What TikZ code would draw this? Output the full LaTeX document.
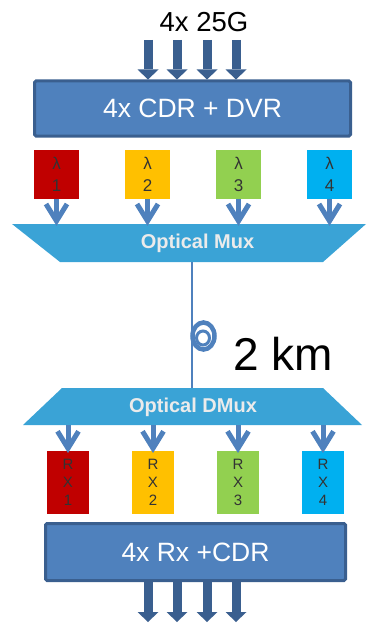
\documentclass[tikz,border=0pt]{standalone}
\usepackage{fontspec}
\setmainfont{Liberation Sans}
\usetikzlibrary{arrows.meta,calc}
\definecolor{blk}{HTML}{4F81BD}
\definecolor{blkdark}{HTML}{3A5F8F}
\definecolor{muxc}{HTML}{3AA3D6}
\definecolor{lred}{HTML}{C00000}
\definecolor{lyel}{HTML}{FFC000}
\definecolor{lgrn}{HTML}{92D050}
\definecolor{lblu}{HTML}{00B0F0}
\definecolor{txtd}{HTML}{333333}
\tikzset{
  bigblock/.style={draw=blkdark, fill=blk, line width=3pt, rounded corners=1.5pt, inner sep=0pt, text=white, font=\fontsize{26.5}{26}\selectfont},
  lam/.style={inner sep=0pt, minimum width=45pt, minimum height=49pt, text=txtd, font=\fontsize{17}{22}\selectfont, align=center},
  rxbox/.style={inner sep=0pt, minimum width=42pt, minimum height=63pt, text=txtd, font=\fontsize{15}{18}\selectfont, align=center},
  fatarrow/.style={draw=blkdark, line width=9pt, -{Triangle[width=21pt,length=10pt,line width=0pt]}},
  chev/.style={draw=blk, line width=5pt, line join=miter},
  muxtext/.style={text=white!92!black, font=\bfseries\fontsize{20}{20}\selectfont},
}
\begin{document}
\begin{tikzpicture}[x=1pt,y=-1pt]
\useasboundingbox (0,0) rectangle (367,623);
% title
\node[font=\fontsize{27.5}{27}\selectfont] (title) at (204,22) {4x 25G};
% top block
\node[bigblock, minimum width=316pt, minimum height=55pt] (tx) at (192.5,108.5) {4x CDR + DVR};
\foreach \x [count=\i] in {148,177,207,236}{
  \coordinate (ti\i) at (\x,40);
  \draw[fatarrow] (ti\i) -- (ti\i |- tx.north);
}
% lambda boxes
\node[lam, fill=lred] (l1) at (56.5,174.5) {λ\\1};
\node[lam, fill=lyel] (l2) at (147.5,174.5) {λ\\2};
\node[lam, fill=lgrn] (l3) at (238.5,174.5) {λ\\3};
\node[lam, fill=lblu] (l4) at (329.5,174.5) {λ\\4};
% optical mux
\fill[muxc] (12,224) -- (366,224) -- (323,262) -- (60,262) -- cycle;
\node[muxtext] (mux) at (197.5,243.5) {Optical Mux};
\foreach \i in {1,2,3,4}{
  \coordinate (mt\i) at (l\i.south |- 0,221);
  \draw[chev] (l\i.south) -- (mt\i);
  \draw[chev] ($(mt\i)+(-10.5,-17)$) -- (mt\i) -- ($(mt\i)+(10.5,-17)$);
}
% fiber
\coordinate (fa) at (192,262);
\coordinate (fb) at (192,388);
\draw[blk, line width=2pt] (fa) -- (fb);
\draw[blk, line width=4.5pt] (203.5,336) ellipse (11 and 13.5);
\draw[blk, line width=3pt] (203,338) ellipse (6.5 and 7);
\node[font=\fontsize{46}{46}\selectfont] (km) at (283,354) {2 km};
% optical dmux
\fill[muxc] (62,388) -- (323,388) -- (362,425) -- (23,425) -- cycle;
\node[muxtext] (dmux) at (193,407.5) {Optical DMux};
% rx boxes
\node[rxbox, fill=lred] (r1) at (68,482) {R\\X\\1};
\node[rxbox, fill=lyel] (r2) at (153,482) {R\\X\\2};
\node[rxbox, fill=lgrn] (r3) at (238,482) {R\\X\\3};
\node[rxbox, fill=lblu] (r4) at (323,482) {R\\X\\4};
\foreach \i in {1,2,3,4}{
  \coordinate (ds\i) at (r\i.north |- 0,425);
  \coordinate (dt\i) at ($(r\i.north)+(0,-2)$);
  \draw[chev] (ds\i) -- (dt\i);
  \draw[chev] ($(dt\i)+(-10.5,-17)$) -- (dt\i) -- ($(dt\i)+(10.5,-17)$);
}
% bottom block
\node[bigblock, minimum width=300pt, minimum height=57pt] (rx) at (195.5,552) {4x Rx +CDR};
\foreach \x [count=\i] in {148,177,207,236}{
  \coordinate (bo\i) at (\x,622);
  \draw[fatarrow] (bo\i |- rx.south) -- (bo\i);
}
\end{tikzpicture}
\end{document}
